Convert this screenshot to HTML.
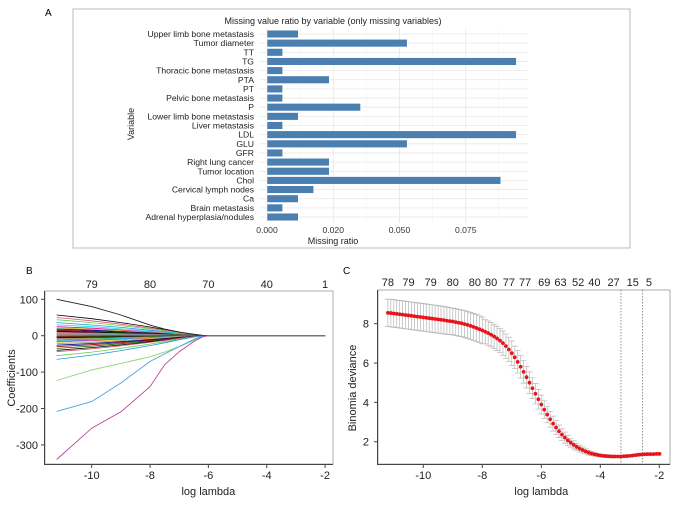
<!DOCTYPE html>
<html><head><meta charset="utf-8"><style>
html,body{margin:0;padding:0;background:#fff;}
svg{display:block;font-family:"Liberation Sans",sans-serif;}
</style></head><body>
<svg id="fig" width="680" height="516" viewBox="0 0 680 516">
<rect x="73" y="9" width="557" height="239" fill="none" stroke="#bbb" stroke-width="1"/>
<text x="45" y="16" font-size="10">A</text>
<text x="333" y="24" font-size="9" text-anchor="middle" fill="#222">Missing value ratio by variable (only missing variables)</text>
<text x="333" y="244" font-size="9" text-anchor="middle" fill="#222">Missing ratio</text>
<text transform="translate(134,124) rotate(-90)" font-size="9" text-anchor="middle" fill="#222">Variable</text>
<g id="ga"></g>
<text x="26" y="274" font-size="10">B</text>
<g id="gb"></g>
<text x="343" y="274" font-size="10">C</text>
<g id="gc"></g>
</svg>
<script>
// ---------- Panel A data ----------
const aCategories = ["Upper limb bone metastasis","Tumor diameter","TT","TG","Thoracic bone metastasis","PTA","PT","Pelvic bone metastasis","P","Lower limb bone metastasis","Liver metastasis","LDL","GLU","GFR","Right lung cancer","Tumor location","Chol","Cervical lymph nodes","Ca","Brain metastasis","Adrenal hyperplasia/nodules"];
const aValues = [0.0118,0.0529,0.0059,0.0941,0.0059,0.0235,0.0059,0.0059,0.0353,0.0118,0.0059,0.0941,0.0529,0.0059,0.0235,0.0235,0.0882,0.0176,0.0118,0.0059,0.0118];
const aTickValues = [0,0.025,0.05,0.075];
const aTickLabels = ["0.000","0.020","0.050","0.075"];
// ---------- Panel B data ----------
const bLogLambda = [-11.2,-10,-9,-8,-7.5,-7,-6.5,-6.2,-6,-4,-2];
const bBigBlack = [100,80,57,29,18,10,4,1,0,0,0];
const bBigGreen = [-123,-94,-76,-58,-45,-30,-13,-3,0,0,0];
const bBigBlue = [-208,-181,-130,-71,-50,-30,-10,-2,0,0,0];
const bBigMagenta = [-340,-254,-209,-140,-80,-44,-16,-3,0,0,0];
const bShrinkProfile = [1,0.82,0.63,0.42,0.3,0.17,0.06,0.01,0,0,0];
const bSmallStarts = [57,50,44,36,30,25,22,20,18,15,13,11,9,7,5,4,3,2,1,-1,-2,-4,-6,-8,-10,-12,-14,-16,-18,-22,-26,-30,-35,-40,-44,-55,-65];
const bTopLabels = ["79","80","70","40","1"];
const bTopPos = [-10,-8,-6,-4,-2];
const bXTicks = [-10,-8,-6,-4,-2];
const bYTicks = [100,0,-100,-200,-300];
// ---------- Panel C data ----------
const cDeviance = [8.55,8.54,8.52,8.50,8.48,8.46,8.44,8.42,8.40,8.38,8.36,8.34,8.32,8.30,8.28,8.26,8.24,8.22,8.20,8.18,8.15,8.13,8.11,8.08,8.05,8.02,7.98,7.94,7.89,7.84,7.78,7.72,7.66,7.59,7.52,7.44,7.35,7.25,7.14,7.01,6.86,6.69,6.50,6.29,6.06,5.81,5.55,5.28,5.00,4.72,4.44,4.16,3.89,3.63,3.38,3.14,2.92,2.72,2.53,2.36,2.21,2.07,1.95,1.84,1.74,1.65,1.58,1.51,1.45,1.40,1.36,1.33,1.30,1.28,1.27,1.26,1.25,1.25,1.25,1.25,1.26,1.27,1.28,1.30,1.32,1.34,1.35,1.36,1.37,1.37,1.37,1.38,1.38];
const cSD = [0.70,0.70,0.70,0.70,0.70,0.70,0.70,0.70,0.70,0.70,0.70,0.70,0.70,0.70,0.70,0.70,0.70,0.70,0.70,0.70,0.70,0.68,0.68,0.68,0.68,0.68,0.68,0.68,0.68,0.68,0.68,0.68,0.68,0.62,0.62,0.62,0.62,0.62,0.62,0.62,0.62,0.62,0.62,0.57,0.57,0.57,0.57,0.55,0.55,0.53,0.52,0.50,0.48,0.45,0.42,0.40,0.38,0.35,0.32,0.30,0.28,0.26,0.23,0.21,0.19,0.17,0.15,0.13,0.12,0.10,0.09,0.08,0.08,0.07,0.07,0.07,0.07,0.06,0.06,0.06,0.06,0.06,0.06,0.06,0.06,0.06,0.06,0.06,0.06,0.06,0.06,0.06,0.06];
const cLogStart = -11.2, cLogStep = 0.1;
const cTopLabels = ["78","79","79","80","80","80","77","77","69","63","52","40","27","15","5"];
const cTopPos = [-11.2,-10.5,-9.75,-9.0,-8.25,-7.7,-7.1,-6.55,-5.9,-5.35,-4.75,-4.2,-3.55,-2.9,-2.35];
const cVLines = [-3.3,-2.57];
const cXTicks = [-10,-8,-6,-4,-2];
const cYTicks = [2,4,6,8];

const NS="http://www.w3.org/2000/svg";
function mk(parent,tag,attrs){const e=document.createElementNS(NS,tag);for(const k in attrs)e.setAttribute(k,attrs[k]);parent.appendChild(e);return e;}

// ---------- Panel A ----------
(function(){
const g=document.getElementById('ga');
const x0=267, pxPerUnit=2650, yTop=34, step=9.15, bh=7.6;
const xA=v=>x0+v*pxPerUnit;
const yA=i=>yTop+i*step;
for(let m=0;m<=7;m++){const v=m*0.0125;const gx=xA(v);if(gx>528)break;
 const ln=mk(g,'line',{x1:gx,x2:gx,y1:28,y2:223,stroke:m%2?'#f2f2f2':'#e6e6e6','stroke-width':m%2?0.5:0.8});
 
 }
aCategories.forEach((c,i)=>{
 const hl=mk(g,'line',{x1:259,x2:528,y1:yA(i),y2:yA(i),stroke:'#e8e8e8','stroke-width':0.8});
 
 
});
aCategories.forEach((c,i)=>{
 const r=mk(g,'rect',{x:x0,y:yA(i)-bh/2,width:aValues[i]*pxPerUnit,height:bh,fill:'#4a7fb0',stroke:'#fff','stroke-width':0.5});
 
 
 const t=mk(g,'text',{x:254,y:yA(i)+3,'font-size':8.6,'text-anchor':'end',fill:'#222'});
 t.textContent=c;
 
 
});
aTickValues.forEach((v,i)=>{
 const t=mk(g,'text',{x:xA(v),y:233,'font-size':8.6,'text-anchor':'middle',fill:'#333'});
 t.textContent=aTickLabels[i];
 
 
});
})();

// ---------- Panel B ----------
(function(){
const g=document.getElementById('gb');
const xB=v=>91.7+(v+10)*29.17;
const yB=v=>335.7-v*0.364;
const box=mk(g,'rect',{x:45,y:291,width:288,height:173,fill:'none',stroke:'#999','stroke-width':0.8});


const ax=mk(g,'path',{d:`M44.5 291 V464.5 H333`,fill:'none',stroke:'#444','stroke-width':1});


const pal=['#000000','#DF536B','#61D04F','#2297E6','#28E2E5','#CD0BBC','#F5C710','#9E9E9E','#000080','#8B0000','#006400'];
bSmallStarts.forEach((s,k)=>{
 const d=bLogLambda.map((x,i)=>(i?'L':'M')+xB(x).toFixed(1)+' '+yB(s*bShrinkProfile[i]).toFixed(1)).join(' ');
 const p=mk(g,'path',{d,fill:'none',stroke:pal[k%pal.length],'stroke-width':0.8});
 
 
});
[[bBigBlack,'#222'],[bBigGreen,'#8fd46f'],[bBigBlue,'#4aa3e0'],[bBigMagenta,'#b8459a']].forEach(([arr,col],k)=>{
 const d=bLogLambda.map((x,i)=>(i?'L':'M')+xB(x).toFixed(1)+' '+yB(arr[i]).toFixed(1)).join(' ');
 const p=mk(g,'path',{d,fill:'none',stroke:col,'stroke-width':0.9});
 
 
});
bXTicks.forEach(v=>{
 mk(g,'line',{x1:xB(v),x2:xB(v),y1:464.5,y2:468,stroke:'#444'});
 const t=mk(g,'text',{x:xB(v),y:479,'font-size':11,'text-anchor':'middle',fill:'#222'});
 t.textContent=v;
 
 
});
bYTicks.forEach(v=>{
 mk(g,'line',{x1:41,x2:44.5,y1:yB(v),y2:yB(v),stroke:'#444'});
 const t=mk(g,'text',{x:38,y:yB(v)+4,'font-size':11,'text-anchor':'end',fill:'#222'});
 t.textContent=v;
 
 
});
bTopLabels.forEach((l,i)=>{
 const t=mk(g,'text',{x:xB(bTopPos[i]),y:288,'font-size':11,'text-anchor':'middle',fill:'#222'});
 t.textContent=l;
 
 
});
const xl=mk(g,'text',{x:xB(-6),y:495,'font-size':11,'text-anchor':'middle',fill:'#222'});
xl.textContent='log lambda';


const yl=mk(g,'text',{transform:'translate(15,378) rotate(-90)','font-size':11,'text-anchor':'middle',fill:'#222'});
yl.textContent='Coefficients';


})();

// ---------- Panel C ----------
(function(){
const g=document.getElementById('gc');
const xC=v=>423.3+(v+10)*29.5;
const yC=v=>323.7-(v-8)*19.67;
const box=mk(g,'rect',{x:378,y:290,width:292,height:174,fill:'none',stroke:'#999','stroke-width':0.8});


const ax=mk(g,'path',{d:`M377.5 290 V464.5 H670`,fill:'none',stroke:'#444','stroke-width':1});


cVLines.forEach(v=>{
 const l=mk(g,'line',{x1:xC(v),x2:xC(v),y1:290,y2:464,stroke:'#777','stroke-width':0.8,'stroke-dasharray':'1.5,1.5'});
 
 
});
cDeviance.forEach((d,i)=>{
 const x=xC(cLogStart+i*cLogStep), hi=yC(d+cSD[i]), lo=yC(d-cSD[i]);
 const e=mk(g,'path',{d:`M${x} ${hi} V${lo} M${x-3} ${hi} H${x+3} M${x-3} ${lo} H${x+3}`,stroke:'#b5b5b5','stroke-width':0.7,fill:'none'});
 
 
});
cDeviance.forEach((d,i)=>{
 const c=mk(g,'circle',{cx:xC(cLogStart+i*cLogStep),cy:yC(d),r:1.9,fill:'#e8141b'});
 
 
});
cXTicks.forEach(v=>{
 mk(g,'line',{x1:xC(v),x2:xC(v),y1:464.5,y2:468,stroke:'#444'});
 const t=mk(g,'text',{x:xC(v),y:479,'font-size':11,'text-anchor':'middle',fill:'#222'});
 t.textContent=v;
 
 
});
cYTicks.forEach(v=>{
 mk(g,'line',{x1:374,x2:377.5,y1:yC(v),y2:yC(v),stroke:'#444'});
 const t=mk(g,'text',{x:369,y:yC(v)+4,'font-size':11,'text-anchor':'end',fill:'#222'});
 t.textContent=v;
 
 
});
cTopLabels.forEach((l,i)=>{
 const t=mk(g,'text',{x:xC(cTopPos[i]),y:286,'font-size':11,'text-anchor':'middle',fill:'#222'});
 t.textContent=l;
 
 
});
const xl=mk(g,'text',{x:xC(-6),y:495,'font-size':11,'text-anchor':'middle',fill:'#222'});
xl.textContent='log lambda';


const yl=mk(g,'text',{transform:'translate(356,388) rotate(-90)','font-size':11,'text-anchor':'middle',fill:'#222'});
yl.textContent='Binomia deviance';


})();
</script>
</body></html>
